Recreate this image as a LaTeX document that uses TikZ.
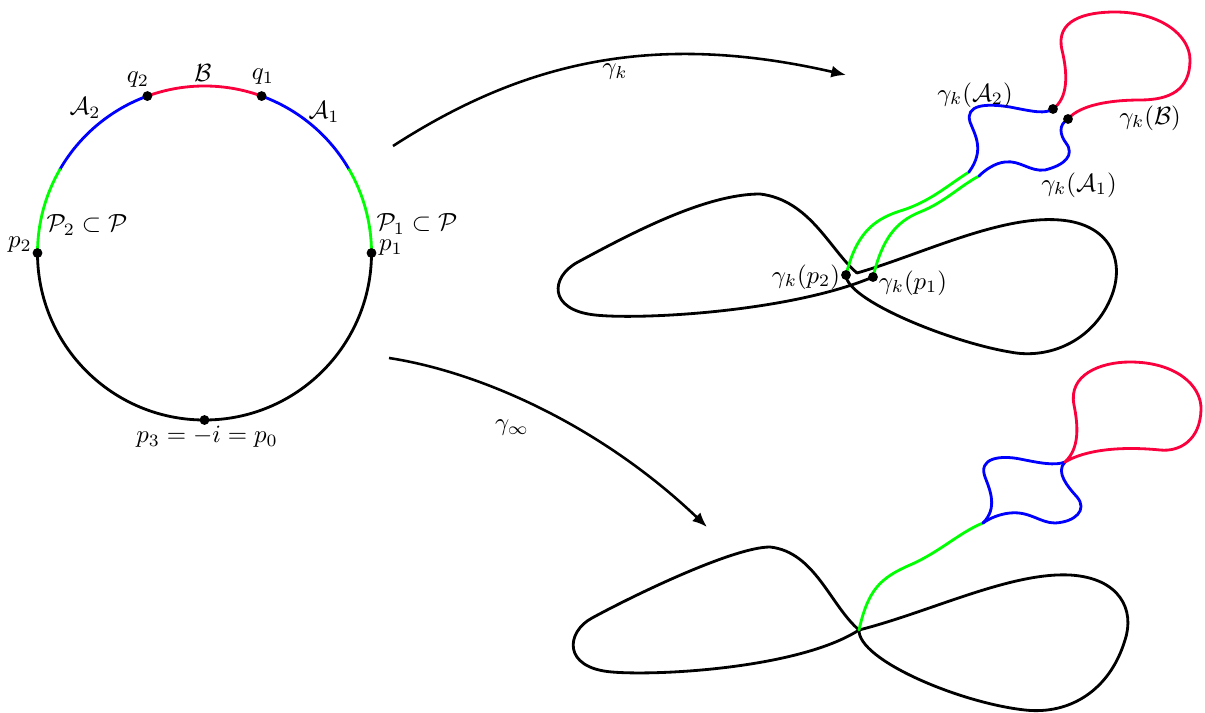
\documentclass[tikz,border=0pt]{standalone}
\usepackage{amsmath,amssymb}
\usetikzlibrary{arrows.meta,calc}
\definecolor{cred}{RGB}{250,0,60}
\definecolor{cgreen}{RGB}{0,255,0}
\definecolor{cblue}{RGB}{0,0,255}
\tikzset{
  curve/.style={line width=1.2pt, line join=round, line cap=round},
  blk/.style={curve, black},
  grn/.style={curve, cgreen},
  blu/.style={curve, cblue},
  rd/.style={curve, cred},
  mapar/.style={line width=1.1pt, -{Latex[length=2.2mm,width=1.8mm]}},
  dotpt/.style={circle, fill=black, inner sep=0pt, minimum size=4.2pt},
  lbl/.style={inner sep=1pt, scale=1.06}
}
\begin{document}
\begin{tikzpicture}[x=0.015cm,y=-0.015cm]
\useasboundingbox (0,0) rectangle (1205,713);
% ---------- circle ----------
\coordinate (c) at (204.5,253);
\def\R{2.505cm}
\draw[rd]  ($(c)+(70:\R)$)  arc[start angle=70,  end angle=110, radius=\R];
\draw[blu] ($(c)+(30:\R)$)  arc[start angle=30,  end angle=70,  radius=\R];
\draw[blu] ($(c)+(110:\R)$) arc[start angle=110, end angle=150, radius=\R];
\draw[grn] ($(c)+(0:\R)$)   arc[start angle=0,   end angle=30,  radius=\R];
\draw[grn] ($(c)+(150:\R)$) arc[start angle=150, end angle=180, radius=\R];
\draw[blk] ($(c)+(180:\R)$) arc[start angle=180, end angle=360, radius=\R];
\node[dotpt] (dp1) at ($(c)+(0:\R)$) {};
\node[dotpt] (dq1) at ($(c)+(70:\R)$) {};
\node[dotpt] (dq2) at ($(c)+(110:\R)$) {};
\node[dotpt] (dp2) at ($(c)+(180:\R)$) {};
\node[dotpt] (dp3) at ($(c)+(270:\R)$) {};
\node[lbl] (lB)  at (203,73)  {$\mathcal{B}$};
\node[lbl] (lq2) at (138,80)  {$q_2$};
\node[lbl] (lq1) at (263,77)  {$q_1$};
\node[lbl] (lA2) at (85,108)  {$\mathcal{A}_2$};
\node[lbl] (lA1) at (324,112) {$\mathcal{A}_1$};
\node[lbl] (lP2) at (87,225)  {$\mathcal{P}_2\subset\mathcal{P}$};
\node[lbl] (lP1) at (417,224) {$\mathcal{P}_1\subset\mathcal{P}$};
\node[lbl] (lp2) at (20,245)  {$p_2$};
\node[lbl] (lp1) at (391,248) {$p_1$};
\node[lbl] (lp3) at (207,437) {$p_3=-i=p_0$};
% ---------- maps ----------
\coordinate (k0) at (393,146);
\coordinate (k1) at (846,75);
\draw[mapar] (k0) .. controls (520,64) and (650,30) .. (k1);
\node[lbl] (lgk) at (615,72) {$\gamma_k$};
\coordinate (i0) at (389,358);
\coordinate (i1) at (707,527);
\draw[mapar] (i0) .. controls (480,372) and (600,425) .. (i1);
\node[lbl] (lgi) at (512,428) {$\gamma_\infty$};
% ---------- gamma_k ----------
\coordinate (kc) at (857,273);
% right loop: corner -> p2
\draw[blk] (kc) .. controls (920,255) and (1000,215) .. (1060,220)
  .. controls (1110,224) and (1125,260) .. (1112,295)
  .. controls (1095,340) and (1050,360) .. (1010,352)
  .. controls (950,342) and (846,300) .. (846,275);
% left loop: corner -> p1
\draw[blk] (kc) .. controls (830,250) and (810,200) .. (760,194)
  .. controls (705,194) and (630,234) .. (578,262)
  .. controls (550,277) and (548,310) .. (595,315)
  .. controls (640,320) and (790,312) .. (873,277);
\draw[grn] (846,275) .. controls (856,235) and (872,220) .. (900,211)
  .. controls (930,202) and (948,185) .. (969,172);
\draw[grn] (873,277) .. controls (882,240) and (895,222) .. (920,212)
  .. controls (945,202) and (960,186) .. (979,176);
\draw[blu] (969,172) .. controls (985,150) and (975,135) .. (970,122)
  .. controls (965,105) and (985,103) .. (1010,107)
  .. controls (1035,112) and (1045,114) .. (1053,109);
\draw[rd] (1053,109) .. controls (1068,98) and (1068,75) .. (1062,50)
  .. controls (1055,20) and (1085,12) .. (1115,12)
  .. controls (1160,12) and (1190,35) .. (1190,60)
  .. controls (1190,90) and (1170,100) .. (1140,100)
  .. controls (1110,100) and (1080,105) .. (1068,119);
\draw[blu] (1068,119) .. controls (1058,125) and (1060,135) .. (1066,143)
  .. controls (1075,155) and (1065,165) .. (1045,170)
  .. controls (1030,172) and (1020,160) .. (1005,162)
  .. controls (995,163) and (985,170) .. (979,176);
\node[dotpt] (gp2) at (846,275) {};
\node[dotpt] (gp1) at (873,277) {};
\node[dotpt] (gq2) at (1053,109) {};
\node[dotpt] (gq1) at (1068,119) {};
\node[lbl] (lgA2) at (975,95)  {$\gamma_k(\mathcal{A}_2)$};
\node[lbl] (lgB)  at (1150,118) {$\gamma_k(\mathcal{B})$};
\node[lbl] (lgA1) at (1079,185) {$\gamma_k(\mathcal{A}_1)$};
\node[lbl] (lgp2) at (806,277) {$\gamma_k(p_2)$};
\node[lbl] (lgp1) at (913,283) {$\gamma_k(p_1)$};
% ---------- gamma_infty ----------
\coordinate (X) at (859,630);
\draw[blk] (X) .. controls (830,605) and (815,552) .. (770,547)
  .. controls (735,547) and (640,592) .. (592,618)
  .. controls (566,632) and (562,668) .. (612,672)
  .. controls (660,676) and (800,668) .. (X);
\draw[blk] (X) .. controls (930,612) and (1010,572) .. (1070,575)
  .. controls (1120,578) and (1135,610) .. (1125,640)
  .. controls (1110,690) and (1070,715) .. (1025,710)
  .. controls (960,703) and (858,660) .. (X);
\draw[grn] (X) .. controls (868,590) and (880,578) .. (910,565)
  .. controls (940,552) and (960,532) .. (983,523);
\coordinate (K) at (983,523);
\coordinate (J) at (1065,462);
\draw[blu] (K) .. controls (998,508) and (990,490) .. (985,477)
  .. controls (978,458) and (1000,455) .. (1020,459)
  .. controls (1040,463) and (1055,466) .. (J);
\draw[blu] (J) .. controls (1055,472) and (1068,487) .. (1077,497)
  .. controls (1088,510) and (1075,522) .. (1055,523)
  .. controls (1040,523) and (1030,511) .. (1010,513)
  .. controls (1000,514) and (990,518) .. (K);
\draw[rd] (J) .. controls (1080,448) and (1078,425) .. (1074,405)
  .. controls (1068,375) and (1100,362) .. (1130,362)
  .. controls (1175,362) and (1202,385) .. (1201,410)
  .. controls (1200,440) and (1180,452) .. (1160,450)
  .. controls (1120,446) and (1085,450) .. (J);
\end{tikzpicture}
\end{document}
